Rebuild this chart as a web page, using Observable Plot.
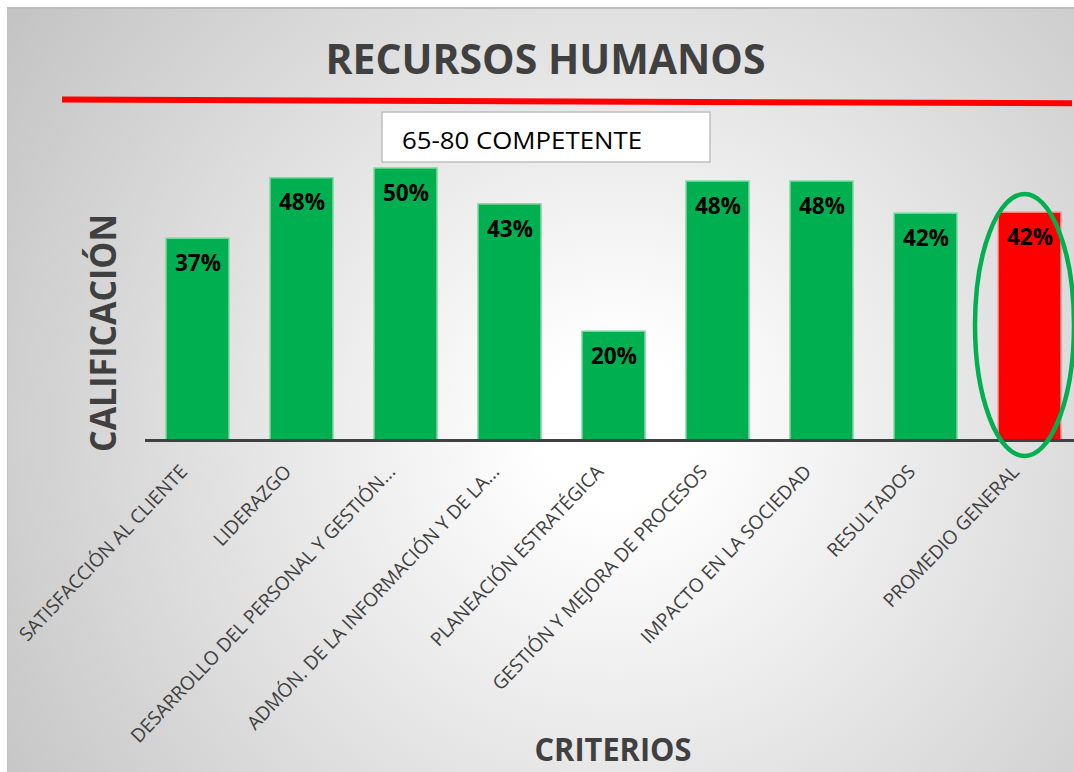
<!DOCTYPE html>
<html><head><meta charset="utf-8">
<script src="https://cdn.jsdelivr.net/npm/d3@7"></script>
<script src="https://cdn.jsdelivr.net/npm/@observablehq/plot@0.6"></script>
<style>
html,body{margin:0;padding:0;background:#fff;}
#wrap{position:relative;width:1074px;height:772px;overflow:hidden;font-family:"Open Sans",sans-serif;}
#bg{position:absolute;left:7px;top:7px;width:1067px;height:765px;box-sizing:border-box;border-top:2px solid #bdbdbd;border-left:1px solid #c4c4c4;background:radial-gradient(circle farthest-corner at 57% 55%, #ffffff 0%, #ffffff 10%, #c3c3c3 100%);}
#plot{position:absolute;left:0;top:0;}
#ann{position:absolute;left:0;top:0;pointer-events:none;}
</style></head><body>
<div id="wrap"><div id="bg"></div><div id="plot"></div><svg id="ann" width="1074" height="772" xmlns="http://www.w3.org/2000/svg"></svg></div>
<script>
const categories = [
  "SATISFACCIÓN AL CLIENTE",
  "LIDERAZGO",
  "DESARROLLO DEL PERSONAL Y GESTIÓN...",
  "ADMÓN. DE LA INFORMACIÓN Y DE LA...",
  "PLANEACIÓN ESTRATÉGICA",
  "GESTIÓN Y MEJORA DE PROCESOS",
  "IMPACTO EN LA SOCIEDAD",
  "RESULTADOS",
  "PROMEDIO GENERAL"
];
const values = [37.1, 48.2, 50.0, 43.4, 20.0, 47.6, 47.6, 41.7, 41.9];
const valueLabels = ["37%", "48%", "50%", "43%", "20%", "48%", "48%", "42%", "42%"];
const barFills = ["#00B050", "#00B050", "#00B050", "#00B050", "#00B050", "#00B050", "#00B050", "#00B050", "#FF0000"];
const barStrokes = ["#7fd6a0", "#7fd6a0", "#7fd6a0", "#7fd6a0", "#7fd6a0", "#7fd6a0", "#7fd6a0", "#7fd6a0", "#ff9a9a"];
const chartTitle = "RECURSOS HUMANOS";
const yTitle = "CALIFICACIÓN";
const xTitle = "CRITERIOS";
const noteText = "65-80 COMPETENTE";
const highlighted = "PROMEDIO GENERAL";

const data = categories.map((c, i) => ({cat: c, value: values[i], label: valueLabels[i], fill: barFills[i], stroke: barStrokes[i]}));

const plot = Plot.plot({
  width: 1074,
  height: 772,
  marginLeft: 145,
  marginRight: 0,
  marginTop: 113.6,
  marginBottom: 332,
  style: {background: "transparent", fontFamily: "'Open Sans', sans-serif", overflow: "visible"},
  x: {domain: categories, range: [145.5, 1081.5], paddingInner: 0.394, paddingOuter: 0.197, label: null},
  y: {domain: [0, 60], axis: null},
  color: {type: "identity"},
  marks: [
    Plot.barY(data, {x: "cat", y: "value", fill: "fill", stroke: "stroke", strokeWidth: 1.5}),
    Plot.ruleY([0], {stroke: "#404040", strokeWidth: 3}),
    Plot.text(data, {x: "cat", y: "value", text: "label", dy: 25, fill: "#000", fontWeight: "bold", fontSize: 22.5}),
    Plot.axisX({tickSize: 0, tickPadding: 28, dx: -14, tickRotate: -46.5, fontSize: 19, color: "#404040", label: null})
  ]
});
document.getElementById("plot").appendChild(plot);

// highlight ellipse around the average bar, positioned from the plot's scales
const xs = plot.scale("x"), ys = plot.scale("y");
const hi = data.find(d => d.cat === highlighted);
const cx = xs.apply(hi.cat) + xs.bandwidth / 2 - 5;
const y0 = ys.apply(0), y1 = ys.apply(hi.value);
const svgP = d3.select(plot.tagName.toLowerCase() === "svg" ? plot : plot.querySelector("svg"));
svgP.append("ellipse")
  .attr("cx", cx).attr("cy", (y0 + y1) / 2 - 1)
  .attr("rx", xs.bandwidth / 2 + 18).attr("ry", (y0 - y1) / 2 + 17)
  .attr("fill", "none").attr("stroke", "#00B050").attr("stroke-width", 4.5);

// annotations
const ann = d3.select("#ann");
ann.append("line").attr("x1", 62).attr("y1", 99.5).attr("x2", 1072).attr("y2", 103.3)
  .attr("stroke", "#ff0000").attr("stroke-width", 6);
ann.append("text").text(chartTitle)
  .attr("x", 545.5).attr("y", 74).attr("text-anchor", "middle")
  .attr("font-family", "'Open Sans', sans-serif").attr("font-weight", "bold").attr("font-size", 41)
  .attr("fill", "#404040").attr("textLength", 440).attr("lengthAdjust", "spacingAndGlyphs");
ann.append("rect").attr("x", 382).attr("y", 112).attr("width", 328).attr("height", 50)
  .attr("fill", "#fff").attr("stroke", "#bfbfbf").attr("stroke-width", 1.5);
ann.append("text").text(noteText)
  .attr("x", 402).attr("y", 149.3)
  .attr("font-family", "'Open Sans', sans-serif").attr("font-size", 24.5)
  .attr("fill", "#000").attr("textLength", 240).attr("lengthAdjust", "spacingAndGlyphs");
ann.append("text").text(yTitle)
  .attr("transform", "translate(116,333) rotate(-90)").attr("text-anchor", "middle")
  .attr("font-family", "'Open Sans', sans-serif").attr("font-weight", "bold").attr("font-size", 36)
  .attr("fill", "#404040").attr("textLength", 238).attr("lengthAdjust", "spacingAndGlyphs");
ann.append("text").text(xTitle)
  .attr("x", 613).attr("y", 761).attr("text-anchor", "middle")
  .attr("font-family", "'Open Sans', sans-serif").attr("font-weight", "bold").attr("font-size", 33)
  .attr("fill", "#404040").attr("textLength", 157).attr("lengthAdjust", "spacingAndGlyphs");
</script>
</body></html>
